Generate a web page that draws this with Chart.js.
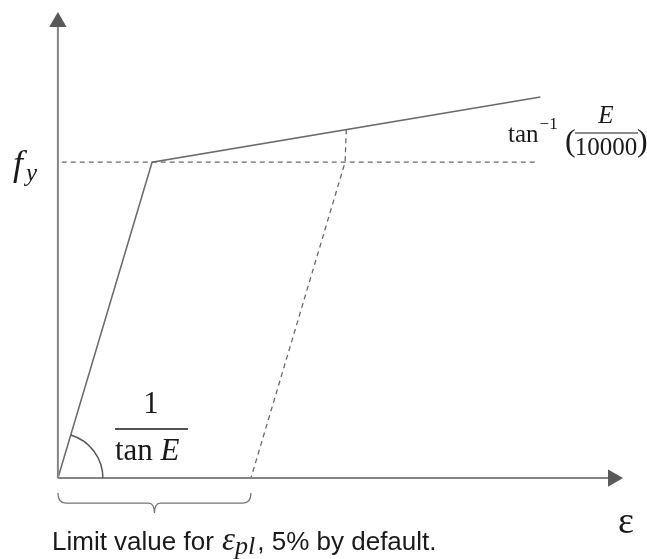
<!DOCTYPE html>
<html lang="en">
<head>
    <meta charset="UTF-8">
    <title>Stress-strain</title>
    <script src="https://cdn.jsdelivr.net/npm/chart.js"></script>
    <style>
        body { margin: 0; background: #fff; }
        #wrap { position: relative; width: 647px; height: 559px; }
    </style>
</head>
<body>
    <div id="wrap"><canvas id="ssChart"></canvas></div>

    <script>
        // strain in %, stress in % of fy
        const curveStrain = [0, 2.44, 12.5];
        const curveStress = [0, 100, 120.6];

        const fyLineStrain = [0.1, 12.4];
        const fyLineStress = [100, 100];

        const unloadStrain = [7.47, 7.44, 5.0];
        const unloadStress = [110.4, 100, 0];

        const xAxisStrain = [0, 14.38];
        const xAxisStress = [0, 0];
        const yAxisStrain = [0, 0];
        const yAxisStress = [0, 144.3];

        const limitStrain = 5;

        function pts(xs, ys) {
            return xs.map((x, i) => ({ x: x, y: ys[i] }));
        }

        const serif = "'Liberation Serif', 'DejaVu Serif', serif";
        const sans = "'Liberation Sans', Arial, sans-serif";

        const annotations = {
            id: 'annotations',
            afterDatasetsDraw(chart) {
                const ctx = chart.ctx;
                const xs = chart.scales.x, ys = chart.scales.y;
                const ox = xs.getPixelForValue(0), oy = ys.getPixelForValue(0);
                ctx.save();

                // angle arc at origin
                const ex = xs.getPixelForValue(curveStrain[1]) - ox;
                const ey = oy - ys.getPixelForValue(curveStress[1]);
                ctx.strokeStyle = '#555';
                ctx.lineWidth = 1.4;
                ctx.beginPath();
                ctx.arc(ox, oy, 45, 0, -Math.atan2(ey, ex), true);
                ctx.stroke();

                // bracket under the limit strain
                const bx1 = ox, bx2 = xs.getPixelForValue(limitStrain);
                const bm = (bx1 + bx2) / 2;
                ctx.strokeStyle = '#777';
                ctx.lineWidth = 1.3;
                ctx.beginPath();
                ctx.moveTo(bx1, oy + 15);
                ctx.quadraticCurveTo(bx1, oy + 25, bx1 + 8, oy + 25);
                ctx.lineTo(bm - 6, oy + 25);
                ctx.quadraticCurveTo(bm, oy + 25, bm, oy + 35);
                ctx.quadraticCurveTo(bm, oy + 25, bm + 6, oy + 25);
                ctx.lineTo(bx2 - 8, oy + 25);
                ctx.quadraticCurveTo(bx2, oy + 25, bx2, oy + 15);
                ctx.stroke();

                ctx.fillStyle = '#1a1a1a';
                ctx.strokeStyle = '#1a1a1a';
                ctx.textBaseline = 'alphabetic';

                // f_y
                ctx.font = 'italic 36px ' + serif;
                ctx.fillText('f', 13, 175);
                ctx.font = 'italic 25px ' + serif;
                ctx.fillText('y', 26, 181);

                // 1 / tan E
                ctx.textAlign = 'center';
                ctx.font = '31px ' + serif;
                ctx.fillText('1', 151, 413);
                ctx.lineWidth = 1.6;
                ctx.beginPath();
                ctx.moveTo(115, 429);
                ctx.lineTo(188, 429);
                ctx.stroke();
                ctx.textAlign = 'left';
                ctx.fillText('tan ', 115, 460);
                let w = ctx.measureText('tan ').width;
                ctx.font = 'italic 31px ' + serif;
                ctx.fillText('E', 115 + w, 460);

                // tan^-1(E/10000)
                let tx = 508;
                ctx.font = '25px ' + serif;
                ctx.fillText('tan', tx, 142);
                tx += ctx.measureText('tan').width + 1;
                ctx.font = '17px ' + serif;
                ctx.fillText('\u22121', tx, 129);
                ctx.font = '32px ' + serif;
                ctx.fillText('(', 565, 151);
                ctx.fillText(')', 637, 151);
                ctx.textAlign = 'center';
                ctx.font = 'italic 25px ' + serif;
                ctx.fillText('E', 606, 123);
                ctx.font = '25px ' + serif;
                ctx.fillText('10000', 606, 155);
                ctx.lineWidth = 1.2;
                ctx.beginPath();
                ctx.moveTo(575, 133);
                ctx.lineTo(638, 133);
                ctx.stroke();

                // epsilon axis label
                ctx.textAlign = 'left';
                ctx.font = '38px ' + serif;
                ctx.fillText('\u03b5', 618, 533);

                // bottom caption
                let x = 52;
                const base = 550;
                ctx.font = '26px ' + sans;
                ctx.fillText('Limit value for ', x, base);
                x += ctx.measureText('Limit value for ').width + 1;
                ctx.font = 'italic 33px ' + serif;
                ctx.fillText('\u03b5', x, base);
                x += ctx.measureText('\u03b5').width;
                ctx.font = 'italic 26px ' + serif;
                ctx.fillText('pl', x, base + 4);
                x += ctx.measureText('pl').width + 2;
                ctx.font = '26px ' + sans;
                ctx.fillText(', 5% by default.', x, base);

                ctx.restore();
            }
        };

        const lineGray = '#6a6a6a';
        const axisGray = '#858585';

        new Chart(document.getElementById('ssChart'), {
            type: 'scatter',
            data: {
                datasets: [
                    {
                        data: pts(xAxisStrain, xAxisStress),
                        showLine: true, borderColor: axisGray, borderWidth: 2,
                        pointRadius: [0, 10], pointStyle: 'triangle', pointRotation: 90,
                        pointBackgroundColor: '#595959', pointBorderWidth: 0
                    },
                    {
                        data: pts(yAxisStrain, yAxisStress),
                        showLine: true, borderColor: axisGray, borderWidth: 2,
                        pointRadius: [0, 10], pointStyle: 'triangle',
                        pointBackgroundColor: '#595959', pointBorderWidth: 0
                    },
                    {
                        data: pts(fyLineStrain, fyLineStress),
                        showLine: true, borderColor: lineGray, borderWidth: 1.3,
                        borderDash: [5, 4], pointRadius: 0
                    },
                    {
                        data: pts(unloadStrain, unloadStress),
                        showLine: true, borderColor: lineGray, borderWidth: 1.3,
                        borderDash: [5, 4], pointRadius: 0
                    },
                    {
                        data: pts(curveStrain, curveStress),
                        showLine: true, borderColor: lineGray, borderWidth: 1.6,
                        pointRadius: 0
                    }
                ]
            },
            options: {
                responsive: true,
                maintainAspectRatio: false,
                animation: false,
                layout: { padding: 0, autoPadding: false },
                plugins: { legend: { display: false }, tooltip: { enabled: false } },
                scales: {
                    x: { type: 'linear', min: -1.5, max: 15.26, display: false },
                    y: { type: 'linear', min: -25.6, max: 151.3, display: false }
                }
            },
            plugins: [annotations]
        });
    </script>
</body>
</html>
